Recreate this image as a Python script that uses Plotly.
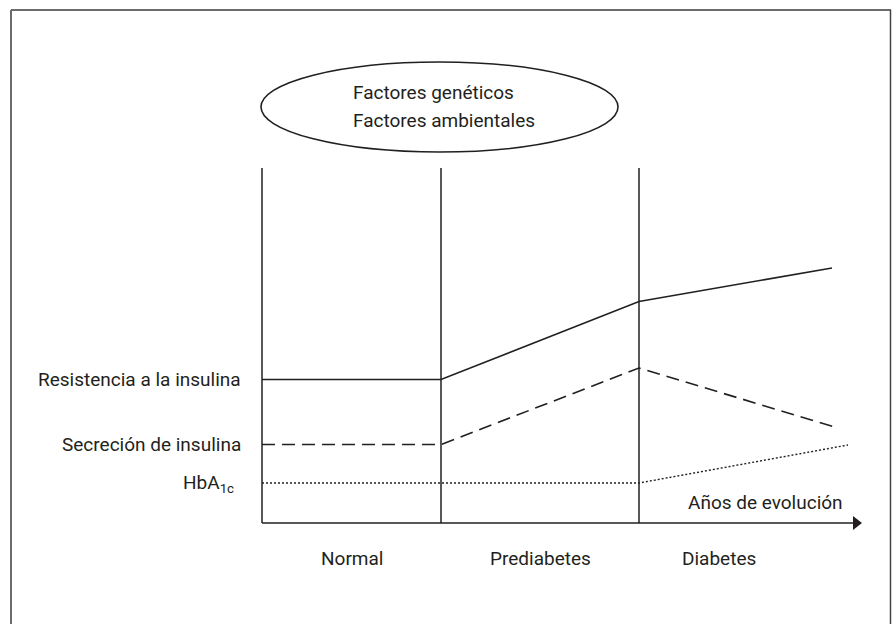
import plotly.graph_objects as go

# ---- data (arbitrary units: x = years of evolution, y = level) ----
stages = ["Normal", "Prediabetes", "Diabetes"]
stage_bounds = [0, 179, 377]          # x where each stage starts
stage_label_x = [90, 278, 457]
divider_top = 355

series_names = ["Resistencia a la insulina", "Secreción de insulina", "HbA<sub>1c</sub>"]
resistencia_x = [0, 179, 377, 570]
resistencia_y = [143.5, 143.5, 221.5, 255]
secrecion_x = [0, 179, 377, 576]
secrecion_y = [78.5, 78.5, 155, 95]
hba1c_x = [0, 377, 586]
hba1c_y = [40, 40, 78]

factores = ["Factores genéticos", "Factores ambientales"]
axis_title = "Años de evolución"
axis_end = 600

FONT = "Roboto, Liberation Sans, Arial, sans-serif"
INK = "#231f20"
TXT = "#231f20"
FS = 19

fig = go.Figure()

# series lines
fig.add_trace(go.Scatter(x=resistencia_x, y=resistencia_y, mode="lines",
                         line=dict(color=INK, width=1.6), hoverinfo="skip"))
fig.add_trace(go.Scatter(x=secrecion_x, y=secrecion_y, mode="lines",
                         line=dict(color=INK, width=1.6, dash="13px,7px"), hoverinfo="skip"))
fig.add_trace(go.Scatter(x=hba1c_x, y=hba1c_y, mode="lines",
                         line=dict(color=INK, width=1.4, dash="2px,2px"), hoverinfo="skip"))

# stage dividers
for xb in stage_bounds:
    fig.add_trace(go.Scatter(x=[xb, xb], y=[0, divider_top], mode="lines",
                             line=dict(color=INK, width=1.5), hoverinfo="skip"))

# time axis with arrowhead
fig.add_trace(go.Scatter(x=[0, axis_end - 6], y=[0, 0], mode="lines",
                         line=dict(color=INK, width=1.6), hoverinfo="skip"))
fig.add_trace(go.Scatter(x=[axis_end - 6], y=[0], mode="markers",
                         marker=dict(symbol="triangle-right", size=12, color=INK,
                                     line=dict(width=0)), hoverinfo="skip"))

shapes = []
# ellipse
shapes.append(dict(type="circle", xref="x", yref="y", x0=-1, x1=356, y0=371, y1=461,
                   line=dict(color=INK, width=1.6)))
# frame (top, left, right)
shapes.append(dict(type="line", xref="paper", yref="paper", x0=11/892, x1=891/892,
                   y0=1-10/624, y1=1-10/624, line=dict(color="#6b6b6b", width=2)))
shapes.append(dict(type="line", xref="paper", yref="paper", x0=11/892, x1=11/892,
                   y0=0, y1=1-10/624, line=dict(color="#6b6b6b", width=2)))
shapes.append(dict(type="line", xref="paper", yref="paper", x0=890.5/892, x1=890.5/892,
                   y0=0, y1=1-10/624, line=dict(color="#444444", width=1.5)))

annotations = []
# series labels
for name, yv, xr in zip(series_names, [resistencia_y[0], secrecion_y[0], hba1c_y[0]], [-19, -19, -26]):
    annotations.append(dict(x=xr, y=yv, xref="x", yref="y", text=name, showarrow=False,
                            xanchor="right", yanchor="middle",
                            font=dict(family=FONT, size=FS, color=TXT)))
# stage labels
for s, xv in zip(stages, stage_label_x):
    annotations.append(dict(x=xv, y=-35, xref="x", yref="y", text=s, showarrow=False,
                            xanchor="center", yanchor="middle",
                            font=dict(family=FONT, size=FS, color=TXT)))
# axis title
annotations.append(dict(x=583, y=21, xref="x", yref="y", text=axis_title, showarrow=False,
                        xanchor="right", yanchor="middle",
                        font=dict(family=FONT, size=FS, color=TXT)))
# ellipse text
for t, yv in zip(factores, [431, 403]):
    annotations.append(dict(x=89, y=yv, xref="x", yref="y", text=t, showarrow=False,
                            xanchor="left", yanchor="middle",
                            font=dict(family=FONT, size=FS, color=TXT)))

fig.update_layout(
    width=892, height=624,
    margin=dict(l=0, r=0, t=0, b=0),
    paper_bgcolor="white", plot_bgcolor="white",
    showlegend=False,
    xaxis=dict(range=[-262, 630], visible=False, fixedrange=True),
    yaxis=dict(range=[-101, 523], visible=False, fixedrange=True),
    shapes=shapes, annotations=annotations,
)

fig.write_html("out.html", config={"displayModeBar": False},
               post_script="document.body.style.margin='0';")
